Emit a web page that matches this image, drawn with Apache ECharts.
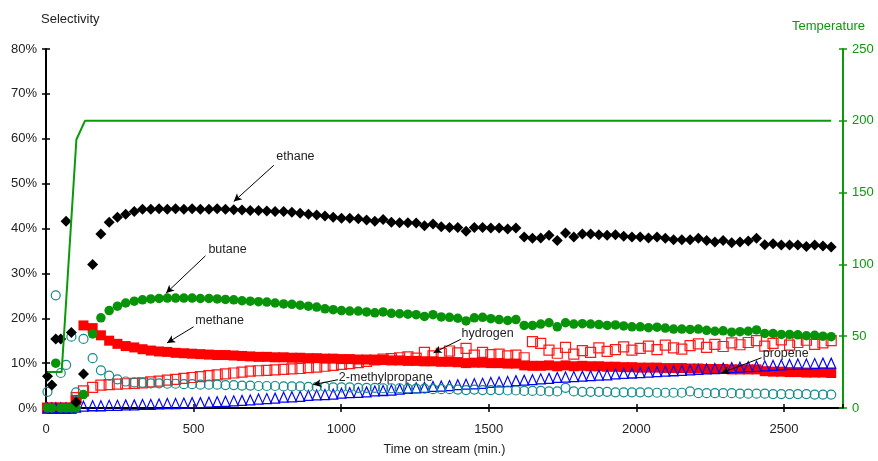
<!DOCTYPE html>
<html>
<head>
<meta charset="utf-8">
<script src="https://cdn.jsdelivr.net/npm/echarts@6/dist/echarts.min.js"></script>
<style>
html,body{margin:0;padding:0;background:#fff;}
#chart{width:878px;height:461px;}
</style>
</head>
<body>
<div id="chart"></div>
<script>
// Sampling times (min)
const times = [5,20,33,50,68,86,102,127,158,186,214,242,270,299,
327,355,383,411,439,467,495,523,552,580,
608,636,664,692,720,748,776,805,833,861,
889,917,945,973,1001,1029,1058,1086,1114,1142,
1170,1198,1226,1254,1282,1311,1339,1367,1395,1423,
1451,1479,1507,1535,1564,1592,1620,1648,1676,1704,
1732,1760,1788,1817,1845,1873,1901,1929,1957,1985,
2013,2041,2070,2098,2126,2154,2182,2210,2238,2266,
2294,2323,2351,2379,2407,2435,2463,2491,2519,2547,
2576,2604,2632,2660];

// Selectivities (%)
const ethane = [7.1,5.1,15.4,15.4,41.6,16.8,1.3,7.6,32.0,38.8,41.4,42.5,43.2,43.8,
44.3,44.3,44.4,44.3,44.4,44.3,44.4,44.3,44.3,44.4,
44.3,44.2,44.1,44.0,44.0,43.9,43.8,43.8,43.6,43.4,
43.2,43.0,42.8,42.5,42.3,42.3,42.2,41.9,41.6,42.0,
41.4,41.3,41.3,41.2,40.6,41.0,40.4,40.2,40.2,39.4,
40.2,40.2,40.1,40.1,39.9,40.1,38.1,37.8,37.9,38.5,
37.3,39.0,38.1,38.8,38.8,38.6,38.5,38.6,38.3,38.1,
38.1,37.9,38.1,37.8,37.5,37.5,37.5,37.8,37.3,37.0,
37.3,36.8,37.0,37.2,37.8,36.4,36.6,36.3,36.3,36.3,
36.0,36.3,36.1,35.9];

const butane = [0,0,10.0,0,0,0,0,3.0,16.5,20.1,21.7,22.7,23.4,23.8,
24.1,24.3,24.4,24.5,24.5,24.5,24.5,24.4,24.4,24.3,
24.2,24.1,23.9,23.8,23.7,23.6,23.4,23.2,23.1,22.9,
22.7,22.5,22.1,21.9,21.7,21.6,21.6,21.4,21.2,21.4,
21.1,21.0,20.9,20.8,20.4,20.8,20.3,20.2,20.0,19.4,
20.1,20.2,19.9,19.7,19.5,19.7,18.4,18.4,18.7,19.0,
18.1,19.0,18.7,18.8,18.7,18.6,18.4,18.5,18.3,18.1,
18.1,17.9,18.0,17.8,17.6,17.6,17.5,17.6,17.3,17.1,
17.2,16.9,17.0,17.1,17.4,16.6,16.6,16.4,16.4,16.3,
16.1,16.2,16.0,15.9];

const methane = [0,0,0,0,0,0,1.8,18.4,17.8,16.2,15.0,14.3,13.8,13.5,
13.1,12.8,12.6,12.5,12.3,12.2,12.1,12.0,11.9,11.8,
11.8,11.7,11.6,11.5,11.4,11.4,11.3,11.3,11.2,11.2,
11.1,11.1,11.0,11.0,10.9,10.9,10.8,10.8,10.7,10.7,
10.6,10.6,10.5,10.5,10.4,10.4,10.3,10.3,10.2,10.0,
10.1,10.1,10.0,10.0,9.9,9.9,9.5,9.4,9.4,9.5,
9.3,9.5,9.3,9.4,9.3,9.3,9.2,9.2,9.1,9.1,
9.0,9.0,9.0,8.9,8.9,8.9,8.8,8.8,8.7,8.7,
8.7,8.6,8.6,8.6,8.6,8.2,8.1,8.1,8.0,8.0,
7.9,7.9,7.9,7.8];

const hydrogen = [0,0,0,0,0,0,2.3,3.8,4.6,5.1,5.2,5.3,5.4,5.5,
5.6,5.8,6.0,6.2,6.4,6.6,6.8,7.0,7.2,7.4,
7.6,7.8,8.0,8.2,8.3,8.4,8.5,8.6,8.7,8.8,
9.0,9.1,9.3,9.5,9.7,9.9,10.1,10.4,10.7,10.9,
11.0,11.2,11.4,11.1,12.4,11.6,12.2,12.7,12.3,13.3,
11.8,12.4,11.9,12.0,11.6,11.8,11.2,14.8,14.4,12.9,
12.2,13.5,12.0,12.8,12.4,13.4,12.6,13.0,13.6,12.9,
13.3,13.8,13.0,14.0,13.4,13.1,13.9,14.3,13.5,14.2,
13.7,14.5,14.1,14.6,15.0,13.8,14.4,15.2,14.0,14.6,
15.1,14.2,14.5,15.0];

const propene = [0,0,0,0,0,0,0.2,0.4,0.5,0.5,0.6,0.6,0.7,0.7,
0.8,0.8,0.9,1.0,1.0,1.1,1.2,1.2,1.3,1.4,
1.5,1.6,1.7,1.8,2.0,2.1,2.2,2.4,2.5,2.6,
2.8,2.9,3.0,3.1,3.3,3.4,3.5,3.6,3.8,3.9,
4.0,4.2,4.4,4.5,4.6,4.8,4.9,5.0,5.2,5.3,
5.4,5.5,5.7,5.8,5.9,6.1,6.2,6.3,6.5,6.6,
6.8,6.9,7.0,7.1,7.2,7.3,7.4,7.6,7.7,7.8,
7.9,8.0,8.1,8.2,8.3,8.4,8.5,8.6,8.7,8.8,
8.9,9.0,9.1,9.2,9.3,9.4,9.5,9.6,9.7,9.8,
9.8,9.9,10.0,10.0];

const methylpropane = [3.6,null,25.1,7.8,9.6,15.9,3.5,15.4,11.1,8.4,7.2,6.4,5.9,5.7,
5.6,5.5,5.5,5.4,5.4,5.3,5.3,5.2,5.2,5.2,
5.1,5.1,5.0,5.0,4.9,4.9,4.9,4.8,4.8,4.8,
4.7,4.7,4.7,4.6,4.6,4.6,4.5,4.5,4.5,4.4,
4.4,4.4,4.3,4.3,4.3,4.2,4.2,4.2,4.1,4.0,
4.1,4.0,4.0,4.0,3.9,3.9,3.8,3.8,3.8,3.7,
3.7,4.5,3.7,3.6,3.6,3.6,3.6,3.5,3.5,3.5,
3.5,3.5,3.4,3.4,3.4,3.4,3.7,3.3,3.3,3.3,
3.3,3.3,3.2,3.2,3.2,3.2,3.1,3.1,3.1,3.1,
3.1,3.0,3.0,3.0];

// Temperature (right axis)
const tempTime = [5,53,103,132,2660];
const tempVals = [25,25,187,200,200];

// Axis ticks
const xTicks = {min:0, max:2700, interval:500};
const yLeft = {min:0, max:80, interval:10};
const yRight = {min:0, max:250, interval:50};

// Annotations: [label, textAt[t,%], arrowFrom[t,%], arrowTo[t,%]]
const annotations = [
  ['ethane', [845,56.0], [772,54.1], [636,46.0]],
  ['butane', [615,35.3], [540,33.9], [407,25.6]],
  ['methane', [588,19.5], [500,18.1], [410,14.5]],
  ['hydrogen', [1496,16.6], [1405,15.3], [1313,12.3]],
  ['2-methylpropane', [1151,6.8], [989,6.3], [905,5.2]],
  ['propene', [2506,12.2], [2424,11.2], [2288,7.8]]
];

const FONT = 'Liberation Sans, Arial, sans-serif';
const GREEN = '#0a9a0a';

function pts(vals){
  const out = [];
  for (let i = 0; i < times.length; i++) {
    if (vals[i] !== null && vals[i] !== undefined) out.push([times[i], vals[i]]);
  }
  return out;
}

const chart = echarts.init(document.getElementById('chart'), null, {renderer:'canvas'});

const baseX = {type:'value', min:xTicks.min, max:xTicks.max, interval:xTicks.interval, splitLine:{show:false}};
const baseYL = {type:'value', min:yLeft.min, max:yLeft.max, interval:yLeft.interval, splitLine:{show:false}};
const baseYR = {type:'value', min:yRight.min, max:yRight.max, interval:yRight.interval, splitLine:{show:false}};

const option = {
  animation:false,
  backgroundColor:'#fff',
  textStyle:{fontFamily:FONT},
  grid:{left:46, right:35, top:49, bottom:49, containLabel:false},
  xAxis:[
    Object.assign({}, baseX, {
      position:'bottom',
      axisLine:{show:true, onZero:false, lineStyle:{color:'#000', width:2}},
      axisTick:{show:true, length:4, lineStyle:{color:'#000', width:1.5}},
      axisLabel:{fontSize:13, color:'#222', margin:15, showMaxLabel:false, fontFamily:FONT,
                 formatter:v => String(v)},
      name:'Time on stream (min.)', nameLocation:'middle', nameGap:35,
      nameTextStyle:{fontSize:12.5, color:'#222', fontFamily:FONT}
    }),
    Object.assign({}, baseX, {
      position:'bottom',
      axisLine:{show:false, onZero:false},
      axisTick:{show:true, inside:true, length:4, lineStyle:{color:'#000', width:1.5}},
      axisLabel:{show:false}
    })
  ],
  yAxis:[
    Object.assign({}, baseYL, {
      position:'left',
      axisLine:{show:true, onZero:false, lineStyle:{color:'#000', width:2}},
      axisTick:{show:true, length:4, lineStyle:{color:'#000', width:1.5}},
      axisLabel:{fontSize:13, color:'#222', margin:9, formatter:'{value}%', fontFamily:FONT}
    }),
    Object.assign({}, baseYR, {
      position:'right',
      axisLine:{show:true, onZero:false, lineStyle:{color:GREEN, width:2}},
      axisTick:{show:true, length:4, lineStyle:{color:GREEN, width:1.5}},
      axisLabel:{fontSize:13, color:GREEN, margin:9, fontFamily:FONT}
    }),
    Object.assign({}, baseYL, {
      position:'left',
      axisLine:{show:false, onZero:false},
      axisTick:{show:true, inside:true, length:4, lineStyle:{color:'#000', width:1.5}},
      axisLabel:{show:false}
    }),
    Object.assign({}, baseYR, {
      position:'right',
      axisLine:{show:false, onZero:false},
      axisTick:{show:true, inside:true, length:4, lineStyle:{color:GREEN, width:1.5}},
      axisLabel:{show:false}
    })
  ],
  graphic:[
    {type:'text', left:41, top:13, style:{text:'Selectivity', fontSize:13, fill:'#222', fontFamily:FONT}},
    {type:'text', left:792, top:20, style:{text:'Temperature', fontSize:13, fill:GREEN, fontFamily:FONT}}
  ],
  series:[
    {
      name:'hydrogen', type:'scatter', data:pts(hydrogen),
      symbol:'rect', symbolSize:10,
      itemStyle:{color:'rgba(255,255,255,0)', borderColor:'#ff1a1a', borderWidth:1.2, opacity:1}
    },
    {
      name:'methane', type:'scatter', data:pts(methane),
      symbol:'rect', symbolSize:10,
      itemStyle:{color:'#ff0000', opacity:1}
    },
    {
      name:'propene', type:'scatter', data:pts(propene),
      symbol:'triangle', symbolSize:[9,10],
      itemStyle:{color:'rgba(255,255,255,0)', borderColor:'#0000ff', borderWidth:1.2, opacity:1}
    },
    {
      name:'2-methylpropane', type:'scatter', data:pts(methylpropane),
      symbol:'circle', symbolSize:9,
      itemStyle:{color:'rgba(255,255,255,0)', borderColor:'#138a8a', borderWidth:1.2, opacity:1}
    },
    {
      name:'butane', type:'scatter', data:pts(butane),
      symbol:'circle', symbolSize:9.5,
      itemStyle:{color:'#089408', opacity:1}
    },
    {
      name:'ethane', type:'scatter', data:pts(ethane),
      symbol:'diamond', symbolSize:11,
      itemStyle:{color:'#000', opacity:1},
      markLine:{
        silent:true, animation:false,
        symbol:['none','arrow'], symbolSize:[6,8],
        lineStyle:{color:'#000', width:1, type:'solid'},
        label:{show:false},
        data:annotations.map(a => [{coord:a[2]}, {coord:a[3]}])
      },
      markPoint:{
        silent:true, animation:false,
        symbol:'circle', symbolSize:1,
        itemStyle:{color:'rgba(0,0,0,0)'},
        label:{show:true, position:'inside', color:'#222', fontSize:12.5, fontFamily:FONT,
               formatter:p => p.name},
        data:annotations.map(a => ({name:a[0], coord:a[1]}))
      }
    },
    {
      name:'Temperature', type:'line', yAxisIndex:1,
      data:tempTime.map((t,i) => [t, tempVals[i]]),
      showSymbol:false, symbol:'none',
      lineStyle:{color:GREEN, width:2},
      z:3
    }
  ]
};
chart.setOption(option);
</script>
</body>
</html>
